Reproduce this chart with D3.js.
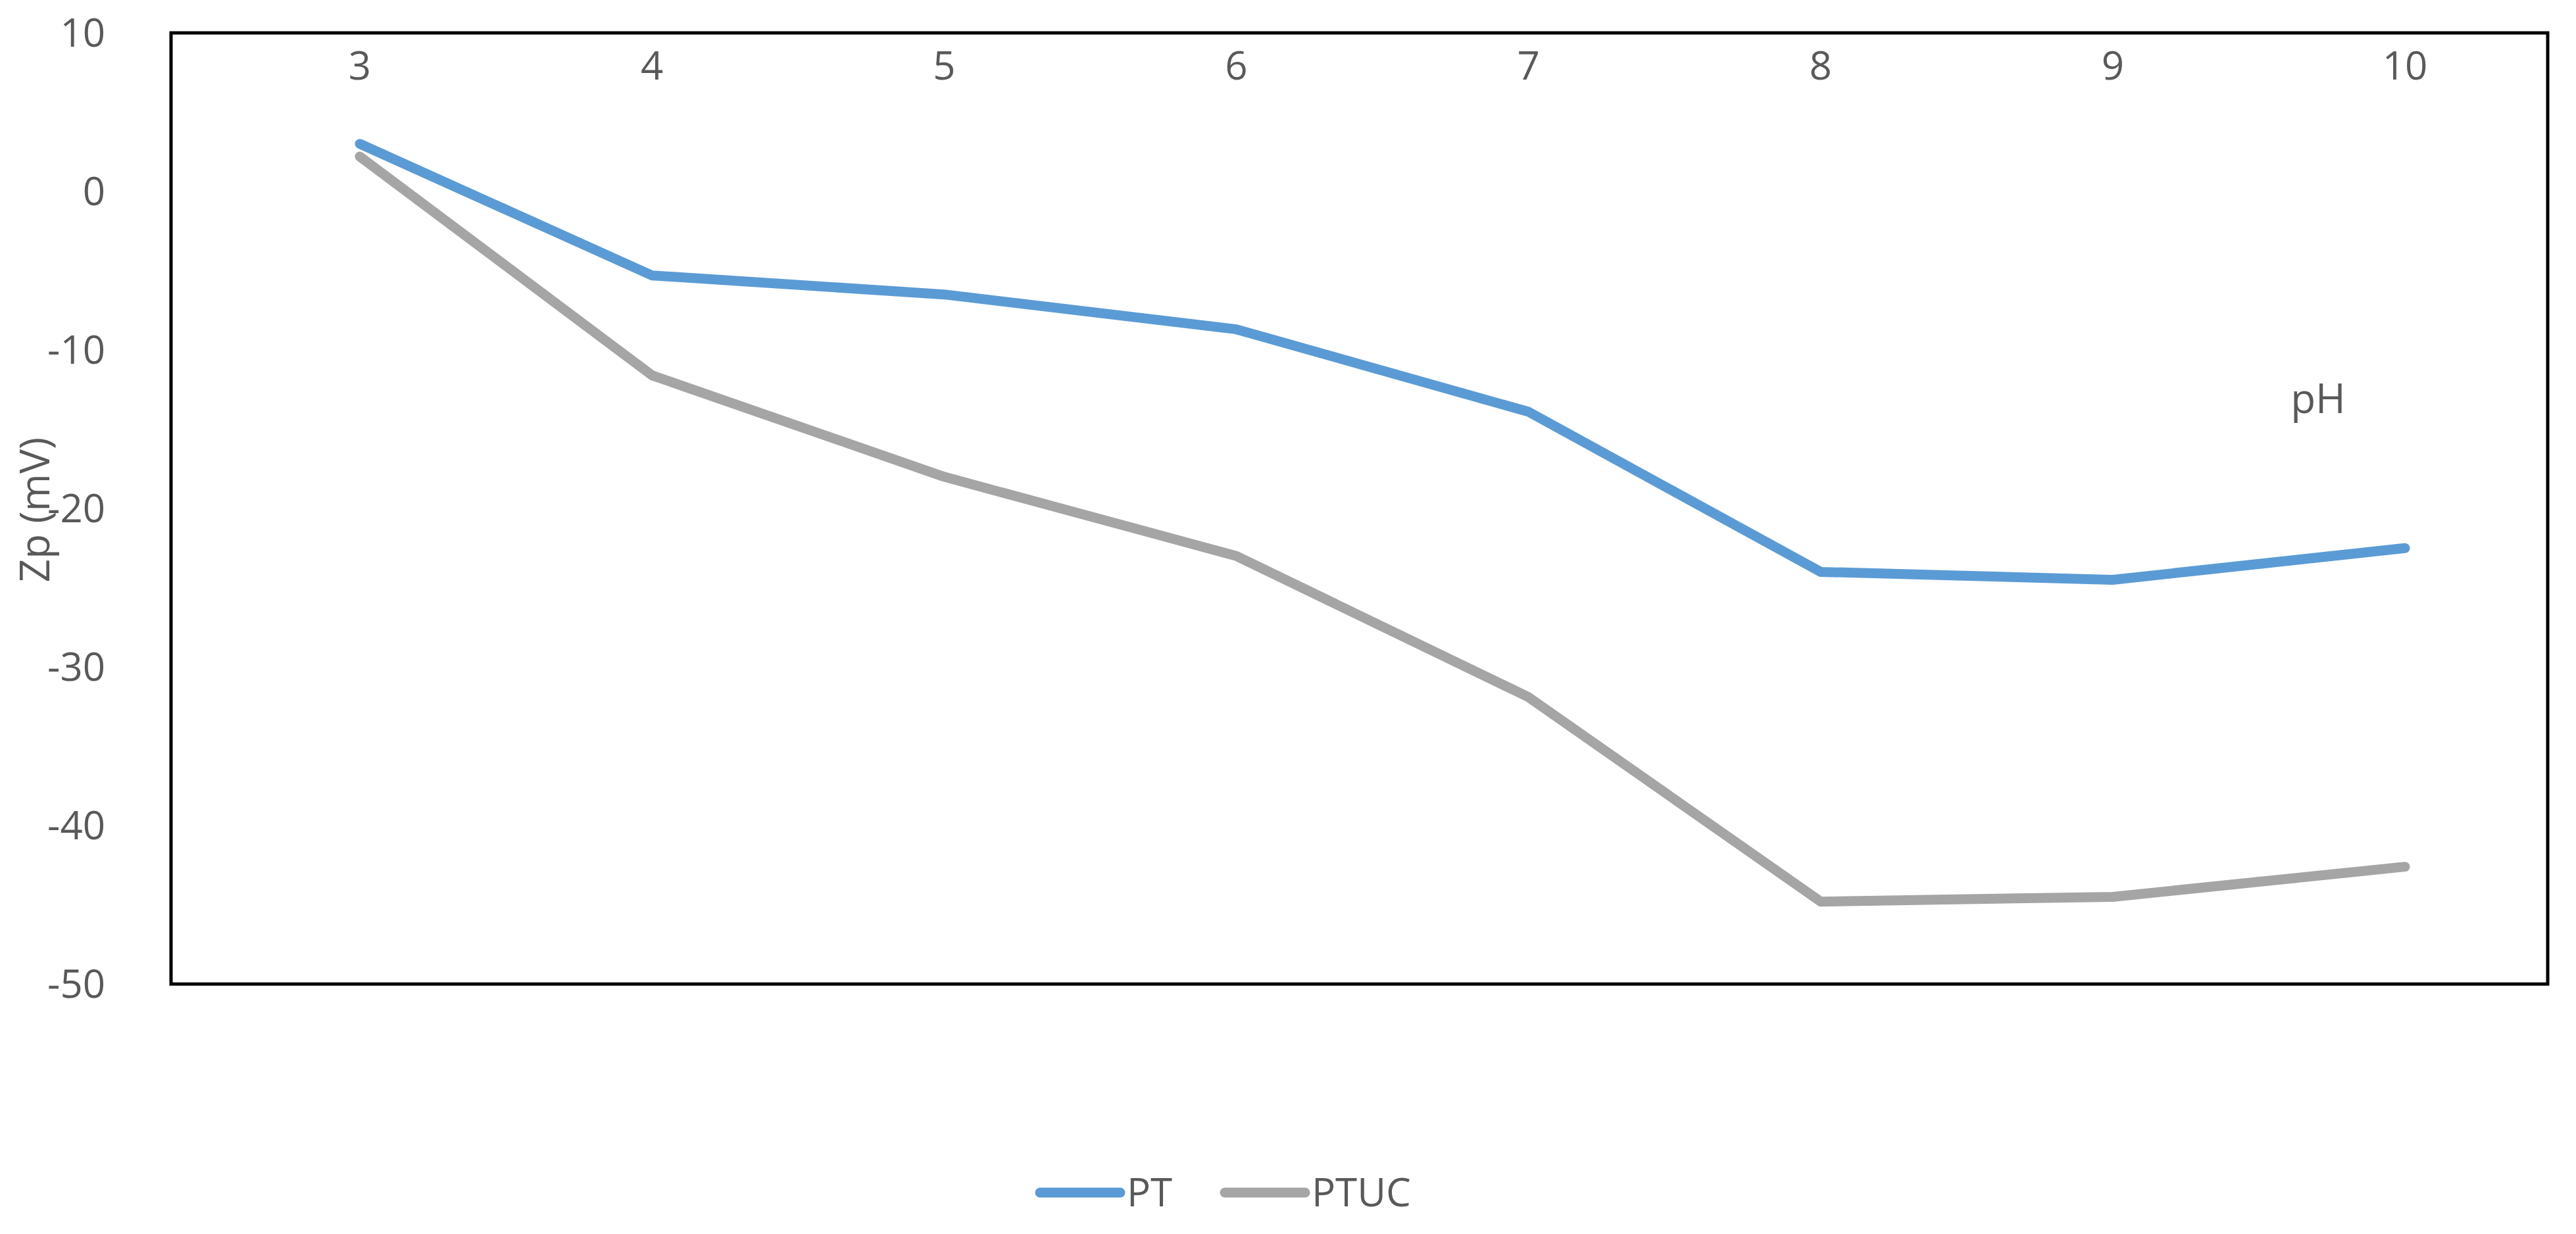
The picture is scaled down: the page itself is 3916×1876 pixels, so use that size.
<!DOCTYPE html>
<html>
<head>
<meta charset="utf-8">
<script src="https://d3js.org/d3.v7.min.js"></script>
<style>
  body { margin: 0; background: #fff; }
  text { font-family: "Open Sans", sans-serif; fill: #595959; }
</style>
</head>
<body>
<svg id="chart" width="3916" height="1876"></svg>
<script>
// data
const phValues = [3, 4, 5, 6, 7, 8, 9, 10];
const ptValues = [3.0, -5.3, -6.5, -8.7, -13.9, -24.0, -24.5, -22.5];
const ptucValues = [2.2, -11.6, -18.0, -23.0, -31.9, -44.8, -44.5, -42.6];
const yTicks = [10, 0, -10, -20, -30, -40, -50];
const seriesNames = ["PT", "PTUC"];
const seriesColors = ["#5B9BD5", "#A5A5A5"];

const svg = d3.select("#chart");
const plotLeft = 260, plotRight = 3873, plotTop = 50, plotBottom = 1496;

const x = d3.scaleLinear().domain([3, 10]).range([547, 3656]);
const y = d3.scaleLinear().domain([-50, 10]).range([plotBottom, plotTop]);

// plot frame
svg.append("rect")
  .attr("x", plotLeft).attr("y", plotTop)
  .attr("width", plotRight - plotLeft).attr("height", plotBottom - plotTop)
  .attr("fill", "none").attr("stroke", "#000").attr("stroke-width", 5);

// y tick labels
svg.selectAll(".ytick")
  .data(yTicks)
  .join("text")
  .attr("class", "ytick")
  .attr("x", 160)
  .attr("y", (d) => y(d))
  .attr("dy", "0.35em")
  .attr("text-anchor", "end")
  .attr("font-size", 60)
  .text((d) => d);

// x tick labels along the top
svg.selectAll(".xtick")
  .data(phValues)
  .join("text")
  .attr("class", "xtick")
  .attr("x", (d) => x(d))
  .attr("y", 100)
  .attr("dy", "0.35em")
  .attr("text-anchor", "middle")
  .attr("font-size", 60)
  .text((d) => d);

// axis titles
svg.append("text")
  .attr("transform", "translate(75,775) rotate(-90)")
  .attr("text-anchor", "middle")
  .attr("font-size", 62)
  .text("Zp (mV)");

svg.append("text")
  .attr("x", 3524).attr("y", 606)
  .attr("dy", "0.35em")
  .attr("text-anchor", "middle")
  .attr("font-size", 62)
  .text("pH");

// lines
const line = d3.line()
  .x((d, i) => x(phValues[i]))
  .y((d) => y(d));

[ptValues, ptucValues].forEach((vals, i) => {
  svg.append("path")
    .datum(vals)
    .attr("d", line)
    .attr("fill", "none")
    .attr("stroke", seriesColors[i])
    .attr("stroke-width", 15)
    .attr("stroke-linejoin", "round")
    .attr("stroke-linecap", "round");
});

// legend
const legendX = [1581, 1862];
const legend = svg.selectAll(".legend")
  .data(seriesNames)
  .join("g")
  .attr("class", "legend")
  .attr("transform", (d, i) => `translate(${legendX[i]},1813)`);

legend.append("line")
  .attr("x1", 0).attr("x2", 122)
  .attr("stroke", (d, i) => seriesColors[i])
  .attr("stroke-width", 15)
  .attr("stroke-linecap", "round");

legend.append("text")
  .attr("x", 132)
  .attr("dy", "0.35em")
  .attr("font-size", 60)
  .text((d) => d);
</script>
</body>
</html>
